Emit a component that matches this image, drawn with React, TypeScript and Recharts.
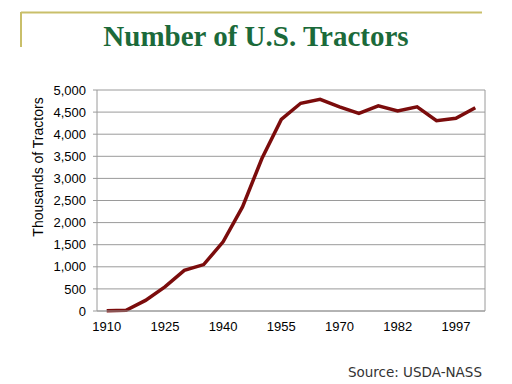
import React from 'react';
import { LineChart, Line, XAxis, YAxis, CartesianGrid, ReferenceLine } from 'recharts';

// census years, one category each (Excel-style category axis)
const years = [1910, 1915, 1920, 1925, 1930, 1935, 1940, 1945, 1950, 1955, 1960, 1965, 1970, 1974, 1978, 1982, 1987, 1992, 1997, 2002];
// thousands of tractors
const tractors = [5, 15, 240, 545, 920, 1050, 1565, 2355, 3450, 4335, 4700, 4790, 4620, 4470, 4640, 4525, 4620, 4305, 4360, 4600];
const yTicks = [0, 500, 1000, 1500, 2000, 2500, 3000, 3500, 4000, 4500, 5000];
const labelIdx = [0, 3, 6, 9, 12, 15, 18];

const data = years.map((year, i) => ({ i, year, value: tractors[i] }));
const boundaries = years.map((_, i) => i + 0.5);

const GRID = '#9a9a9a';
const tickFont = { fontSize: 13, fontFamily: 'Liberation Sans, Arial, sans-serif', fill: '#000' };

export default function App() {
  return (
    <div style={{ position: 'absolute', left: 0, top: 0, width: 512, height: 384, background: '#fff' }}>
      <LineChart
        width={512}
        height={384}
        data={data}
        margin={{ top: 90, right: 27, bottom: 0, left: 20 }}
      >
        <CartesianGrid vertical={false} stroke={GRID} strokeWidth={1} />
        {/* boundary tick marks, zero height so the labelled axis sits on the same line */}
        <XAxis
          xAxisId="b"
          dataKey="i"
          type="number"
          domain={[-0.5, 19.5]}
          ticks={boundaries}
          tick={false}
          tickSize={4}
          axisLine={false}
          stroke={GRID}
          height={0}
          interval={0}
        />
        <XAxis
          dataKey="i"
          type="number"
          domain={[-0.5, 19.5]}
          ticks={labelIdx}
          tickFormatter={(v) => String(years[v])}
          tickLine={false}
          tickSize={4}
          tickMargin={7}
          stroke={GRID}
          tick={tickFont}
          height={73}
          interval={0}
        />
        <YAxis
          domain={[0, 5000]}
          ticks={yTicks}
          tickFormatter={(v) => v.toLocaleString('en-US')}
          tickSize={4}
          tickMargin={7}
          stroke={GRID}
          tick={tickFont}
          width={77}
          interval={0}
        />
        <ReferenceLine x={19.5} stroke={GRID} />
        <Line
          type="linear"
          dataKey="value"
          stroke="#7b0c0c"
          strokeWidth={3.5}
          dot={false}
          isAnimationActive={false}
        />
      </LineChart>
      <svg width={512} height={384} style={{ position: 'absolute', left: 0, top: 0, pointerEvents: 'none' }}>
        <line x1={21} y1={12.5} x2={482} y2={12.5} stroke="#c9bf6a" strokeWidth={2} />
        <line x1={21} y1={12} x2={21} y2={47} stroke="#c9bf6a" strokeWidth={2} />
        <text x={256} y={46} textAnchor="middle" fontFamily="Liberation Serif, Times New Roman, serif" fontWeight="bold" fontSize={29} fill="#1b6a3a">
          Number of U.S. Tractors
        </text>
        <text
          x={43}
          y={167}
          transform="rotate(-90 43 167)"
          textAnchor="middle"
          fontFamily="Liberation Sans, Arial, sans-serif"
          fontSize={14}
          fill="#000"
        >
          Thousands of Tractors
        </text>
        <text x={482} y={377} textAnchor="end" fontFamily="DejaVu Sans, sans-serif" fontSize={13.5} fill="#333">
          Source: USDA-NASS
        </text>
      </svg>
    </div>
  );
}
